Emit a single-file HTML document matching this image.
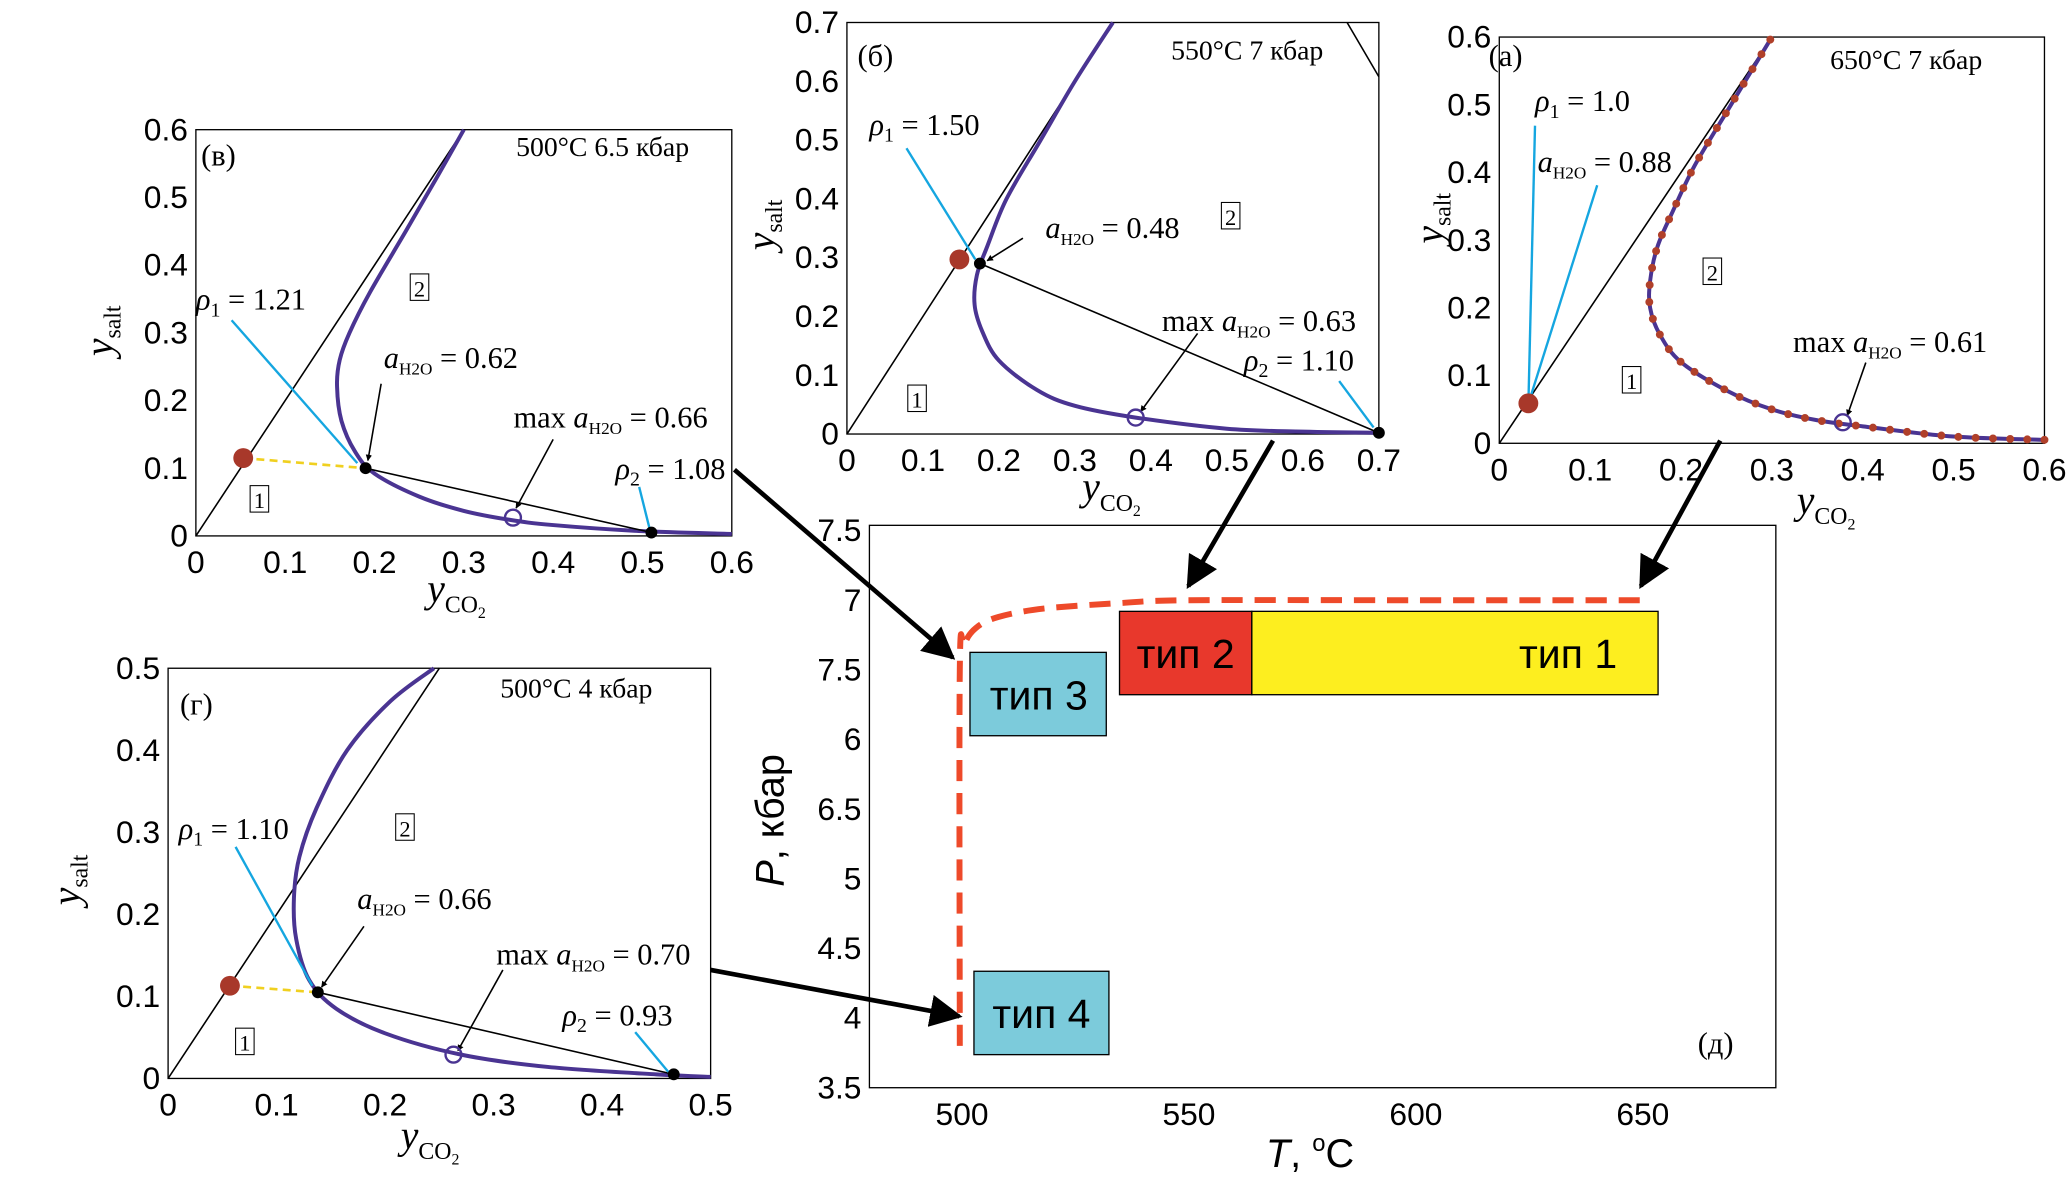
<!DOCTYPE html>
<html><head><meta charset="utf-8">
<style>
html,body{margin:0;padding:0;background:#fff;}
svg{display:block;font-family:"Liberation Serif","DejaVu Serif",serif;}
</style></head>
<body>
<svg id="fig" xmlns="http://www.w3.org/2000/svg" width="2067" height="1181" viewBox="0 0 1562 892.5">
<defs>
<marker id="ah" viewBox="0 0 10 10" refX="9" refY="5" markerWidth="7" markerHeight="7" orient="auto"><path d="M0,0 L10,5 L0,10 z" fill="#000"/></marker>
<marker id="ahs" viewBox="0 0 10 10" refX="9" refY="5" markerWidth="4" markerHeight="4" orient="auto"><path d="M0,0 L10,5 L0,10 z" fill="#000"/></marker>
</defs>
<line x1="1018" y1="17" x2="1042" y2="58" stroke="#000" stroke-width="1.2"/>
</svg>
<script>
// ---------- data ----------
const curveV = [[0.6,0.003],[0.5,0.007],[0.4,0.016],[0.35,0.024],[0.3,0.037],[0.25,0.058],[0.2,0.092],[0.178,0.125],[0.163,0.17],[0.158,0.22],[0.161,0.26],[0.172,0.3],[0.195,0.36],[0.235,0.45],[0.27,0.53],[0.3,0.6]];
const curveB = [[0.7,0.002],[0.6,0.004],[0.5,0.009],[0.38,0.028],[0.3,0.048],[0.25,0.075],[0.2,0.125],[0.178,0.175],[0.168,0.22],[0.171,0.27],[0.185,0.32],[0.21,0.4],[0.255,0.5],[0.3,0.6],[0.35,0.7]];
const curveA = [[0.6,0.005],[0.5,0.01],[0.4,0.025],[0.35,0.034],[0.3,0.05],[0.25,0.078],[0.2,0.12],[0.177,0.16],[0.166,0.2],[0.166,0.24],[0.174,0.29],[0.19,0.34],[0.215,0.41],[0.255,0.5],[0.3,0.6]];
const curveG = [[0.5,0.002],[0.45,0.005],[0.35,0.014],[0.27,0.029],[0.2,0.055],[0.155,0.085],[0.13,0.12],[0.118,0.17],[0.116,0.22],[0.121,0.27],[0.137,0.33],[0.165,0.4],[0.205,0.46],[0.245,0.5]];
const boundaryT = [499.5,499.5,500.5,503,508,518,535,550,600,650];
const boundaryP = [3.8,6.5,6.68,6.8,6.88,6.94,6.98,7.0,7.0,7.0];
const pTickVals = [7.5,7,6.5,6,5.5,5,4.5,4,3.5];
const pTickLabels = ["7.5","7","7.5","6","6.5","5","4.5","4","3.5"];
const tTicks = [500,550,600,650];

const svg=document.getElementById('fig');
const NS='http://www.w3.org/2000/svg';
function el(tag,attrs,parent,text){
  const e=document.createElementNS(NS,tag);
  for(const k in attrs)e.setAttribute(k,attrs[k]);
  if(text!==undefined)e.textContent=text;
  (parent||svg).appendChild(e);return e;
}
function txt(x,y,s,size,parent,anchor,fam){
  const a={x:x,y:y,'font-size':size||22,'text-anchor':anchor||'start'};
  if(fam)a['font-family']=fam;
  return el('text',a,parent,s);
}
const SANS='Liberation Sans, sans-serif';
function smooth(pts){
  let d='M'+pts[0][0].toFixed(1)+','+pts[0][1].toFixed(1);
  for(let i=0;i<pts.length-1;i++){
    const p0=pts[Math.max(i-1,0)],p1=pts[i],p2=pts[i+1],p3=pts[Math.min(i+2,pts.length-1)];
    const c1=[p1[0]+(p2[0]-p0[0])/6,p1[1]+(p2[1]-p0[1])/6];
    const c2=[p2[0]-(p3[0]-p1[0])/6,p2[1]-(p3[1]-p1[1])/6];
    d+=` C${c1[0].toFixed(1)},${c1[1].toFixed(1)} ${c2[0].toFixed(1)},${c2[1].toFixed(1)} ${p2[0].toFixed(1)},${p2[1].toFixed(1)}`;
  }
  return d;
}

function panel(c){
  const g=el('g',{});
  
  
  const X=v=>c.px0+(v/c.xmax)*(c.px1-c.px0);
  const Y=v=>c.py0-(v/c.ymax)*(c.py0-c.py1);
  const fr=el('rect',{x:c.px0,y:c.py1,width:c.px1-c.px0,height:c.py0-c.py1,fill:'none',stroke:'#000','stroke-width':1},g);
  
  
  const xl=el('g',{},g);
  
  
  c.xticks.forEach(v=>{txt(X(v),c.py0+28,v===0?'0':String(v),24,xl,'middle',SANS);});
  const yl=el('g',{},g);
  
  
  c.yticks.forEach(v=>{txt(c.px0-6,Y(v)+8,v===0?'0':String(v),24,yl,'end',SANS);});
  const dg=el('line',{x1:X(0),y1:Y(0),x2:X(c.ymax/2),y2:Y(c.ymax),stroke:'#000','stroke-width':1.2},g);
  
  
  const d=smooth(c.curve.map(p=>[X(p[0]),Y(p[1])]));
  const cv=el('path',{d:d,fill:'none',stroke:'#4a3492','stroke-width':3,'stroke-linejoin':'round'},g);
  
  
  if(c.dotted){
    const dt=el('path',{d:d,fill:'none',stroke:'#b0402a','stroke-width':6,'stroke-linecap':'round','stroke-dasharray':'0 13'},g);
    
    
  }
  if(c.tie){
    const tl=el('line',{x1:X(c.tie[0][0]),y1:Y(c.tie[0][1]),x2:X(c.tie[1][0]),y2:Y(c.tie[1][1]),stroke:'#000','stroke-width':1.2},g);
    
    
  }
  if(c.yellow){
    const yw=el('line',{x1:X(c.red[0]),y1:Y(c.red[1]),x2:X(c.tie[0][0]),y2:Y(c.tie[0][1]),stroke:'#f0d020','stroke-width':2,'stroke-dasharray':'6 4'},g);
    
    
  }
  (c.cyan||[]).forEach(l=>{
    const cl=el('line',{x1:l[0],y1:l[1],x2:l[2],y2:l[3],stroke:'#15a6e0','stroke-width':1.8},g);
    
    
  });
  (c.arrows||[]).forEach(l=>{
    const al=el('line',{x1:l[0],y1:l[1],x2:l[2],y2:l[3],stroke:'#000','stroke-width':1.2,'marker-end':'url(#ahs)'},g);
    
    
  });
  if(c.tie){
    c.tie.forEach(p=>{
      const bd=el('circle',{cx:X(p[0]),cy:Y(p[1]),r:4.5,fill:'#000'},g);
      
      
    });
  }
  const rd=el('circle',{cx:X(c.red[0]),cy:Y(c.red[1]),r:7.5,fill:'#a8382a'},g);
  
  
  const oc=el('circle',{cx:X(c.open[0]),cy:Y(c.open[1]),r:6,fill:'none',stroke:'#4a3492','stroke-width':1.8},g);
  
  
  const lb=el('g',{},g);
  
  
  txt(c.tag[0],c.tag[1],c.tag[2],23,lb);
  txt(c.title[0],c.title[1],c.title[2],21,lb);
  c.texts.forEach(t=>{
    const e=el('text',{x:t[0],y:t[1],'font-size':23},lb);
    e.innerHTML=t[2];
  });
  c.boxes.forEach(b=>{
    el('rect',{x:b[0]-7,y:b[1]-17,width:14,height:20,fill:'none',stroke:'#000','stroke-width':0.8},lb);
    txt(b[0],b[1],b[2],17,lb,'middle');
  });
  const yt=el('text',{x:c.ylab[0],y:c.ylab[1],'font-size':30,'font-style':'italic',transform:`rotate(-90 ${c.ylab[0]} ${c.ylab[1]})`,'text-anchor':'middle'},g);
  yt.innerHTML='y<tspan font-size="18" font-style="normal" dy="6">salt</tspan>';
  
  
  const xt=el('text',{x:c.xlab[0],y:c.xlab[1],'font-size':30,'font-style':'italic','text-anchor':'middle'},g);
  xt.innerHTML='y<tspan font-size="18" font-style="normal" dy="8">CO</tspan><tspan font-size="12" font-style="normal" dy="4">2</tspan>';
  
  
}
const rho=(n,v)=>`<tspan font-style="italic">ρ</tspan><tspan font-size="15" dy="5">${n}</tspan><tspan dy="-5"> = ${v}</tspan>`;
const aw=v=>`<tspan font-style="italic">a</tspan><tspan font-size="13" dy="5">H2O</tspan><tspan dy="-5"> = ${v}</tspan>`;
const maw=v=>`max <tspan font-style="italic">a</tspan><tspan font-size="13" dy="5">H2O</tspan><tspan dy="-5"> = ${v}</tspan>`;

panel({name:'panel-v-500C-6.5kbar',px0:148,px1:553,py0:405,py1:98,xmax:0.6,ymax:0.6,
  xticks:[0,0.1,0.2,0.3,0.4,0.5,0.6],yticks:[0,0.1,0.2,0.3,0.4,0.5,0.6],curve:curveV,
  tie:[[0.19,0.1],[0.51,0.005]],red:[0.053,0.115],open:[0.355,0.027],yellow:true,
  cyan:[[175,242,270,350],[483,368,491,400]],arrows:[[288,290,278,348],[418,332,390,384]],
  tag:[152,125,'(в)'],title:[390,118,'500°C 6.5 кбар'],
  texts:[[148,234,rho(1,'1.21')],[290,278,aw('0.62')],[388,323,maw('0.66')],[465,362,rho(2,'1.08')]],
  boxes:[[317,224,'2'],[196,384,'1']],ylab:[85,250],xlab:[345,455]});

panel({name:'panel-b-550C-7kbar',px0:640,px1:1042,py0:328,py1:17,xmax:0.7,ymax:0.7,
  xticks:[0,0.1,0.2,0.3,0.4,0.5,0.6,0.7],yticks:[0,0.1,0.2,0.3,0.4,0.5,0.6,0.7],curve:curveB,
  tie:[[0.175,0.29],[0.7,0.002]],red:[0.148,0.297],open:[0.38,0.028],
  cyan:[[685,112,737,196],[1012,288,1038,323]],arrows:[[773,180,746,197],[905,252,862,311]],
  tag:[648,50,'(б)'],title:[885,45,'550°C 7 кбар'],
  texts:[[657,102,rho(1,'1.50')],[790,180,aw('0.48')],[878,250,maw('0.63')],[940,280,rho(2,'1.10')]],
  boxes:[[930,170,'2'],[693,308,'1']],ylab:[585,170],xlab:[840,378]});

panel({name:'panel-a-650C-7kbar',px0:1133,px1:1545,py0:335,py1:28,xmax:0.6,ymax:0.6,
  xticks:[0,0.1,0.2,0.3,0.4,0.5,0.6],yticks:[0,0.1,0.2,0.3,0.4,0.5,0.6],curve:curveA,dotted:true,
  red:[0.032,0.059],open:[0.378,0.031],
  cyan:[[1155,305,1160,95],[1155,305,1207,140]],arrows:[[1410,274,1396,314]],
  tag:[1125,50,'(а)'],title:[1383,52,'650°C 7 кбар'],
  texts:[[1160,84,rho(1,'1.0')],[1162,130,aw('0.88')],[1355,266,maw('0.61')]],
  boxes:[[1294,212,'2'],[1233,294,'1']],ylab:[1090,165],xlab:[1380,388]});

panel({name:'panel-g-500C-4kbar',px0:127,px1:537,py0:815,py1:505,xmax:0.5,ymax:0.5,
  xticks:[0,0.1,0.2,0.3,0.4,0.5],yticks:[0,0.1,0.2,0.3,0.4,0.5],curve:curveG,
  tie:[[0.138,0.105],[0.466,0.005]],red:[0.057,0.113],open:[0.263,0.029],yellow:true,
  cyan:[[178,640,236,745],[480,780,505,810]],arrows:[[275,700,243,746],[380,733,346,794]],
  tag:[136,540,'(г)'],title:[378,527,'500°C 4 кбар'],
  texts:[[135,634,rho(1,'1.10')],[270,687,aw('0.66')],[375,729,maw('0.70')],[425,775,rho(2,'0.93')]],
  boxes:[[306,632,'2'],[185,794,'1']],ylab:[60,665],xlab:[325,868]});

// ---------- panel д ----------
(function(){
  const g=el('g',{});
  
  
  const L=657,R=1342,T=397,B=822;
  const X=t=>727+(t-500)*(171.5/50);
  const Y=p=>822-(p-3.5)*105.25;
  const fr=el('rect',{x:L,y:T,width:R-L,height:B-T,fill:'none',stroke:'#000','stroke-width':1},g);
  
  
  const xl=el('g',{},g);
  
  
  tTicks.forEach(t=>txt(X(t),B+28,String(t),24,xl,'middle',SANS));
  const yl=el('g',{},g);
  
  
  pTickVals.forEach((p,i)=>txt(L-6,Y(p)+8,pTickLabels[i],24,yl,'end',SANS));
  const d=smooth(boundaryT.map((t,i)=>[X(t),Y(boundaryP[i])]));
  const bl=el('path',{d:d,fill:'none',stroke:'#ee4a2a','stroke-width':4.5,'stroke-dasharray':'16 9'},g);
  
  
  const boxes=[['type-3-box',733,493,103,63,'#7ccbdb','тип 3',785],
    ['type-2-box',846,462,100,63,'#e8382c','тип 2',896],
    ['type-1-box',946,462,307,63,'#fdee1f','тип 1',1185],
    ['type-4-box',736,734,102,63,'#7ccbdb','тип 4',787]];
  boxes.forEach(b=>{
    const r=el('rect',{x:b[1],y:b[2],width:b[3],height:b[4],fill:b[5],stroke:'#000','stroke-width':1},g);
    
    
    const t=el('text',{x:b[7],y:b[2]+43,'font-size':31,'text-anchor':'middle','font-family':SANS},g,b[6]);
    
    
  });
  const tg=txt(1283,796,'(д)',23,g);
  
  
  const yt=el('text',{x:592,y:620,'font-size':30,transform:'rotate(-90 592 620)','text-anchor':'middle','font-family':SANS},g);
  yt.innerHTML='<tspan font-style="italic">P</tspan>, кбар';
  
  
  const xt=el('text',{x:990,y:882,'font-size':30,'text-anchor':'middle','font-family':SANS},g);
  xt.innerHTML='<tspan font-style="italic">T</tspan>, <tspan font-size="18" dy="-12">o</tspan><tspan dy="12">C</tspan>';
  
  
})();

// ---------- connecting arrows ----------
[[555,355,720,497],[962,333,898,443],[1300,333,1240,443],[537,733,725,768]].forEach(a=>{
  const l=el('line',{x1:a[0],y1:a[1],x2:a[2],y2:a[3],stroke:'#000','stroke-width':3.5,'marker-end':'url(#ah)'});
  
  
});
</script>
</body></html>
